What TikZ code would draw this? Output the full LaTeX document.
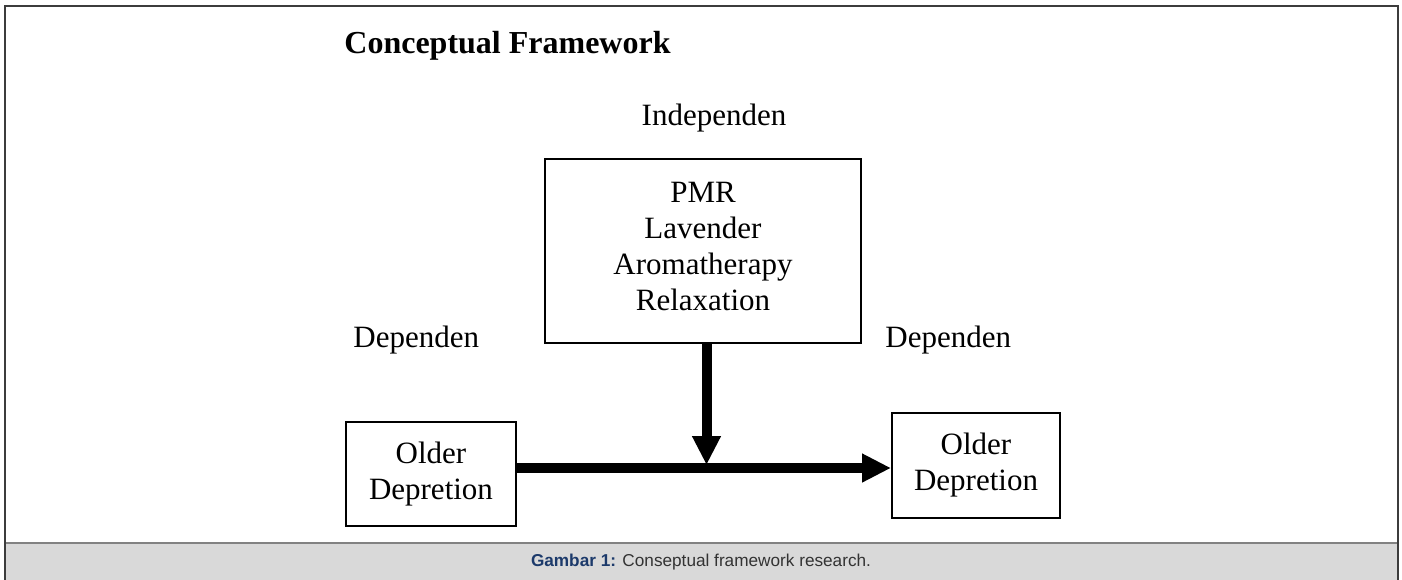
\documentclass[tikz,border=0pt]{standalone}
\usepackage{fontspec}
\setmainfont{Liberation Serif}
\newfontfamily\capfont{Liberation Sans}
\usetikzlibrary{arrows.meta,positioning}
\definecolor{FrameGray}{RGB}{60,60,60}
\definecolor{CapGray}{RGB}{217,217,217}
\definecolor{CapLine}{RGB}{130,130,130}
\definecolor{CapBlue}{RGB}{28,58,107}
\definecolor{CapText}{RGB}{51,51,51}
\tikzset{
  varbox/.style={draw,line width=1pt,align=center,inner sep=0pt,
                 font=\fontsize{15.5}{18}\selectfont},
  lbl/.style={anchor=base west,inner sep=0pt,font=\fontsize{15.5}{18}\selectfont},
  bigarr/.style={-{Triangle[length=14.5pt,width=13.5pt]},line width=5pt},
}

\begin{document}
\begin{tikzpicture}[x=0.5pt,y=-0.5pt]
  \useasboundingbox (0,0) rectangle (1402,579);
  % frame and caption bar
  \fill[CapGray] (5,543) rectangle (1398,582);
  \draw[CapLine,line width=1pt] (5,543) -- (1398,543);
  \draw[FrameGray,line width=0.8pt] (5,582) -- (5,6) -- (1398,6) -- (1398,582);
  \node[font=\capfont\fontsize{8.6}{10}\selectfont,text=CapText] (cap) at (701,562)
    {\textcolor{CapBlue}{\textbf{Gambar 1:}} Conseptual framework research.};

  \node[lbl,font=\fontsize{16}{18}\selectfont\bfseries] (title) at (344,53) {Conceptual Framework};
  \node[anchor=base,font=\fontsize{15.5}{18}\selectfont] (indep) at (714,125) {Independen};

  \node[varbox,minimum width=158pt,minimum height=92pt,text depth=5pt] (pmr) at (703,251)
    {PMR\\Lavender\\Aromatherapy\\Relaxation};
  \node[lbl] (depL) at (353,347) {Dependen};
  \node[lbl] (depR) at (885,347) {Dependen};

  \node[varbox,minimum width=85pt,minimum height=52pt] (oldL) at (431,474) {Older\\Depretion};
  \node[varbox,minimum width=84pt,minimum height=52.5pt] (oldR) at (976,465.5) {Older\\Depretion};

  \coordinate (junc) at (706.5,468);
  \coordinate (hit) at (706.5,465);
  \draw[bigarr] (oldL.east |- junc) -- (oldR.west |- junc);
  \draw[bigarr] (pmr.south -| hit) -- (hit);
\end{tikzpicture}
\end{document}
